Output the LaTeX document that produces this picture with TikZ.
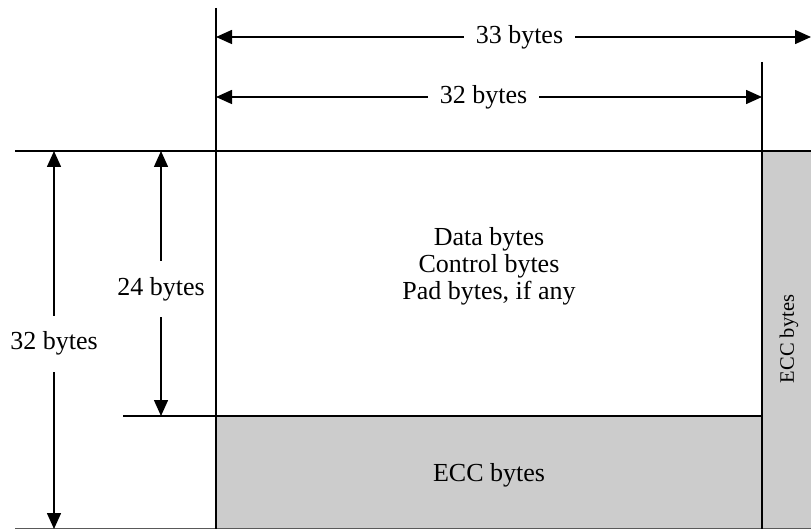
\documentclass[tikz,border=0pt]{standalone}
\usepackage{fontspec}
\setmainfont{Liberation Serif}
\usetikzlibrary{arrows.meta,positioning,calc}

\begin{document}
\begin{tikzpicture}[x=1pt, y=-1pt, font=\fontsize{26}{27}\selectfont,
  dim/.style={{Triangle[length=16pt,width=14pt]}-{Triangle[length=16pt,width=14pt]}, line width=1.5pt},
  lbl/.style={fill=white, inner xsep=12pt, inner ysep=16pt}]
\useasboundingbox (0,0) rectangle (811,529);

% shaded ECC areas
\fill[gray!40] (216,416) rectangle (762,529);
\fill[gray!40] (762,151) rectangle (811,529);

% corner points
\coordinate (tl) at (216,151);
\coordinate (tr) at (762,151);
\coordinate (ml) at (216,416);
\coordinate (mr) at (762,416);
\coordinate (bl) at (216,529);
\coordinate (br) at (762,529);

\node (data) at (489,266) [align=center] {Data bytes\\Control bytes\\Pad bytes, if any};
\node (eccB) at (489,475) {ECC bytes};
\node (eccR) at (789,339) [rotate=90, font=\fontsize{20.5}{22}\selectfont] {ECC bytes};

% grid lines
\draw[line width=1.5pt] (15,151) -- (811,151);
\draw[line width=1.5pt] (123,416) -- (mr);
\draw[line width=1.5pt, gray!70!black] (15,529) -- (811,529);
\draw[line width=1.5pt] (216,8) -- (bl);
\draw[line width=1.5pt] (762,62) -- (br);

% dimension arrows
\coordinate (a33l) at (216,37);
\coordinate (a33r) at (811,37);
\coordinate (a32l) at (216,97);
\coordinate (a32r) at (762,97);
\coordinate (v32t) at (54,151);
\coordinate (v32b) at (54,529);
\coordinate (v24t) at (161,151);
\coordinate (v24b) at (161,416);

\draw[dim] (a33l) -- (a33r) node[lbl, pos=0.51] (w33) {33 bytes};
\draw[dim] (a32l) -- (a32r) node[lbl, pos=0.49] (w32) {32 bytes};
\draw[dim] (v32t) -- (v32b) node[lbl, pos=0.51, inner xsep=2pt] (h32) {32 bytes};
\draw[dim] (v24t) -- (v24b) node[lbl, pos=0.52, inner xsep=2pt] (h24) {24 bytes};

\end{tikzpicture}
\end{document}
